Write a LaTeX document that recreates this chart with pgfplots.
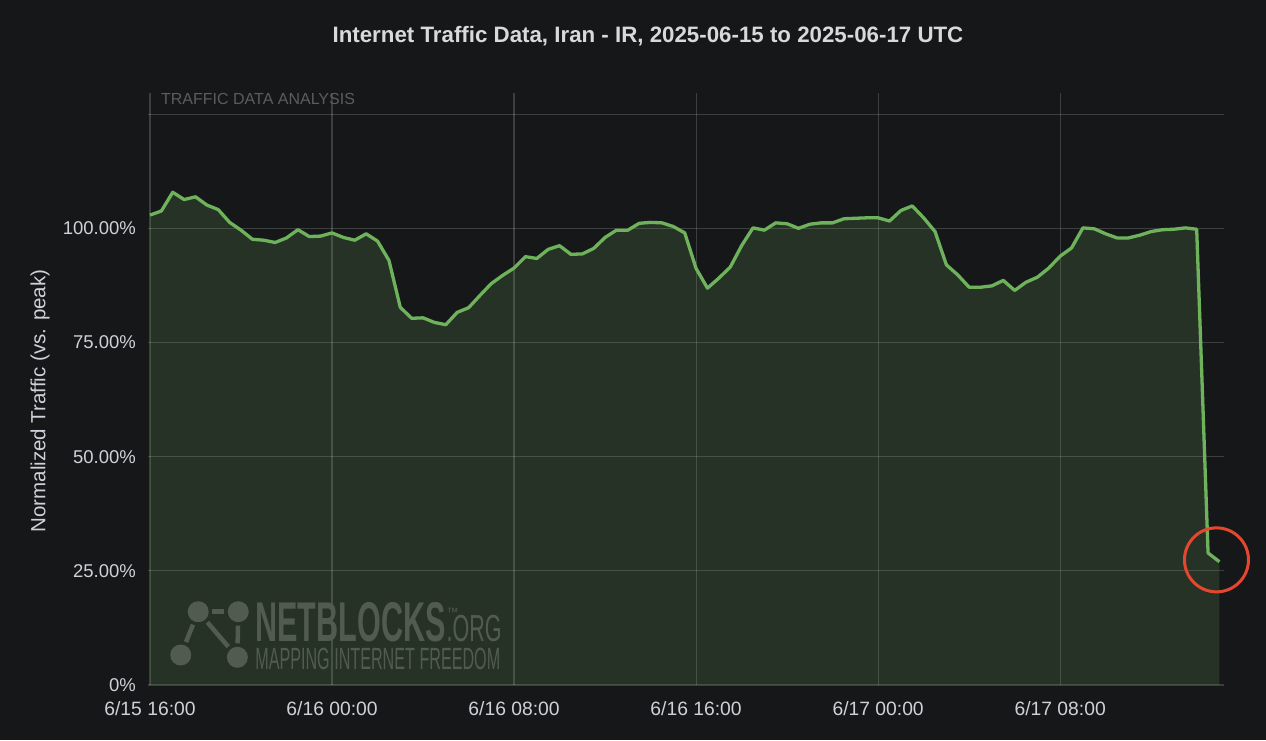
\documentclass[border=0pt]{standalone}
\usepackage{pgfplots}
\pgfplotsset{compat=1.18}
\usepackage{fontspec}
\setmainfont{Liberation Sans}
\definecolor{bg}{HTML}{161719}
\definecolor{txt}{HTML}{D0D0D8}
\definecolor{ttl}{HTML}{D8D9DA}
\definecolor{lin}{HTML}{6FB25C}
\definecolor{wm}{HTML}{525B50}
\definecolor{annot}{HTML}{E5472E}
\definecolor{faint}{HTML}{5B5C5F}
\begin{document}
\begin{tikzpicture}
\useasboundingbox (0,0) rectangle (1266pt,740pt);
\fill[bg] (0,0) rectangle (1266pt,740pt);
\node[text=ttl, font=\bfseries\fontsize{22.3}{24}\selectfont] at (648pt,704pt) {Internet Traffic Data, Iran - IR, 2025-06-15 to 2025-06-17 UTC};
\node[text=txt, rotate=90, font=\fontsize{20.5}{22}\selectfont] at (40pt,339pt) {Normalized Traffic (vs. peak)};
\begin{axis}[
  at={(148pt,55pt)}, anchor=south west,
  scale only axis, width=1076pt, height=592.3pt,
  xmin=-0.088, xmax=47.2, ymin=0, ymax=129.7,
  axis line style={draw=none}, tick style={draw=none},
  xtick={0,8,16,24,32,40},
  xticklabels={6/15 16:00,6/16 00:00,6/16 08:00,6/16 16:00,6/17 00:00,6/17 08:00},
  ytick={0,25,50,75,100,125},
  yticklabels={0\%,25.00\%,50.00\%,75.00\%,100.00\%,},
  xticklabel style={font=\fontsize{19.3}{21}\selectfont, text=txt, inner sep=0pt, anchor=north, yshift=-16pt},
  yticklabel style={font=\fontsize{18.5}{20}\selectfont, text=txt, inner sep=0pt, anchor=east, xshift=-12pt},
  grid=major,
  major grid style={draw=white, opacity=0.17, line width=1.2pt},
  clip=false,
]
\addplot[draw=none, fill=lin, fill opacity=0.18] coordinates {
(0,102.9) (0.5,103.8) (1,107.9) (1.5,106.3) (2,106.9) (2.5,105.1) (3,104.1) (3.5,101.3)
(4,99.6) (4.5,97.6) (5,97.4) (5.5,96.9) (6,97.9) (6.5,99.7) (7,98.2) (7.5,98.3)
(8,99.0) (8.5,98.0) (9,97.4) (9.5,98.8) (10,97.2) (10.5,93.0) (11,82.7) (11.5,80.3)
(12,80.4) (12.5,79.4) (13,78.9) (13.5,81.6) (14,82.6) (14.5,85.3) (15,87.9) (15.5,89.7)
(16,91.3) (16.5,93.8) (17,93.4) (17.5,95.4) (18,96.2) (18.5,94.3) (19,94.4) (19.5,95.6)
(20,98.0) (20.5,99.6) (21,99.6) (21.5,101.1) (22,101.3) (22.5,101.2) (23,100.4) (23.5,99.0)
(24,91.2) (24.5,86.9) (25,89.1) (25.5,91.5) (26,96.2) (26.5,100.1) (27,99.6) (27.5,101.2)
(28,101.0) (28.5,100.0) (29,100.9) (29.5,101.2) (30,101.2) (30.5,102.1) (31,102.2) (31.5,102.3)
(32,102.3) (32.5,101.6) (33,103.9) (33.5,104.9) (34,102.3) (34.5,99.3) (35,92.0) (35.5,89.8)
(36,87.1) (36.5,87.1) (37,87.4) (37.5,88.6) (38,86.4) (38.5,88.2) (39,89.3) (39.5,91.3)
(40,93.9) (40.5,95.7) (41,100.1) (41.5,99.9) (42,98.8) (42.5,97.9) (43,97.9) (43.5,98.5)
(44,99.3) (44.5,99.7) (45,99.8) (45.5,100.1) (46,99.8) (46.5,28.9) (47,27.0)
} \closedcycle;
\addplot[color=lin, line width=3.3pt, line join=round, mark=none] coordinates {
(0,102.9) (0.5,103.8) (1,107.9) (1.5,106.3) (2,106.9) (2.5,105.1) (3,104.1) (3.5,101.3)
(4,99.6) (4.5,97.6) (5,97.4) (5.5,96.9) (6,97.9) (6.5,99.7) (7,98.2) (7.5,98.3)
(8,99.0) (8.5,98.0) (9,97.4) (9.5,98.8) (10,97.2) (10.5,93.0) (11,82.7) (11.5,80.3)
(12,80.4) (12.5,79.4) (13,78.9) (13.5,81.6) (14,82.6) (14.5,85.3) (15,87.9) (15.5,89.7)
(16,91.3) (16.5,93.8) (17,93.4) (17.5,95.4) (18,96.2) (18.5,94.3) (19,94.4) (19.5,95.6)
(20,98.0) (20.5,99.6) (21,99.6) (21.5,101.1) (22,101.3) (22.5,101.2) (23,100.4) (23.5,99.0)
(24,91.2) (24.5,86.9) (25,89.1) (25.5,91.5) (26,96.2) (26.5,100.1) (27,99.6) (27.5,101.2)
(28,101.0) (28.5,100.0) (29,100.9) (29.5,101.2) (30,101.2) (30.5,102.1) (31,102.2) (31.5,102.3)
(32,102.3) (32.5,101.6) (33,103.9) (33.5,104.9) (34,102.3) (34.5,99.3) (35,92.0) (35.5,89.8)
(36,87.1) (36.5,87.1) (37,87.4) (37.5,88.6) (38,86.4) (38.5,88.2) (39,89.3) (39.5,91.3)
(40,93.9) (40.5,95.7) (41,100.1) (41.5,99.9) (42,98.8) (42.5,97.9) (43,97.9) (43.5,98.5)
(44,99.3) (44.5,99.7) (45,99.8) (45.5,100.1) (46,99.8) (46.5,28.9) (47,27.0)
};
% header label
\node[anchor=base west, inner sep=0pt, text=faint, font=\fontsize{16}{18}\selectfont] at (axis cs:0.48,127.2) {TRAFFIC DATA ANALYSIS};
% watermark logo
\fill[wm] (axis cs:2.12,16.05) circle[radius=10.5pt];
\fill[wm] (axis cs:3.88,16.05) circle[radius=10.5pt];
\fill[wm] (axis cs:1.35,6.57) circle[radius=10.5pt];
\fill[wm] (axis cs:3.84,6.07) circle[radius=10.5pt];
\draw[wm, line width=4.5pt, shorten <=14pt, shorten >=14pt] (axis cs:2.12,16.05) -- (axis cs:3.88,16.05);
\draw[wm, line width=4.5pt, shorten <=14pt, shorten >=14pt] (axis cs:2.12,16.05) -- (axis cs:1.35,6.57);
\draw[wm, line width=4.5pt, shorten <=14pt, shorten >=14pt] (axis cs:2.12,16.05) -- (axis cs:3.84,6.07);
\draw[wm, line width=4.5pt, shorten <=14pt, shorten >=14pt] (axis cs:3.88,16.05) -- (axis cs:3.84,6.07);
\node[anchor=base west, inner sep=0pt, text=wm] at (axis cs:4.62,3.29) {\vbox{\baselineskip=28.3pt\lineskiplimit=-100pt\lineskip=0pt
\hbox{\scalebox{0.546}[1]{\bfseries\fontsize{56}{60}\selectfont NETBLOCKS}\kern1pt\makebox[0pt][l]{\raisebox{25pt}{\fontsize{12}{14}\selectfont ™}}\scalebox{0.57}[1]{\fontsize{37.7}{40}\selectfont .ORG}}
\hbox{\scalebox{0.526}[1]{\fontsize{30.7}{33}\selectfont MAPPING INTERNET FREEDOM}}}};
% annotation circle
\draw[annot, line width=3pt] (axis cs:46.87,27.4) circle[radius=32pt];
\end{axis}
\end{tikzpicture}
\end{document}
